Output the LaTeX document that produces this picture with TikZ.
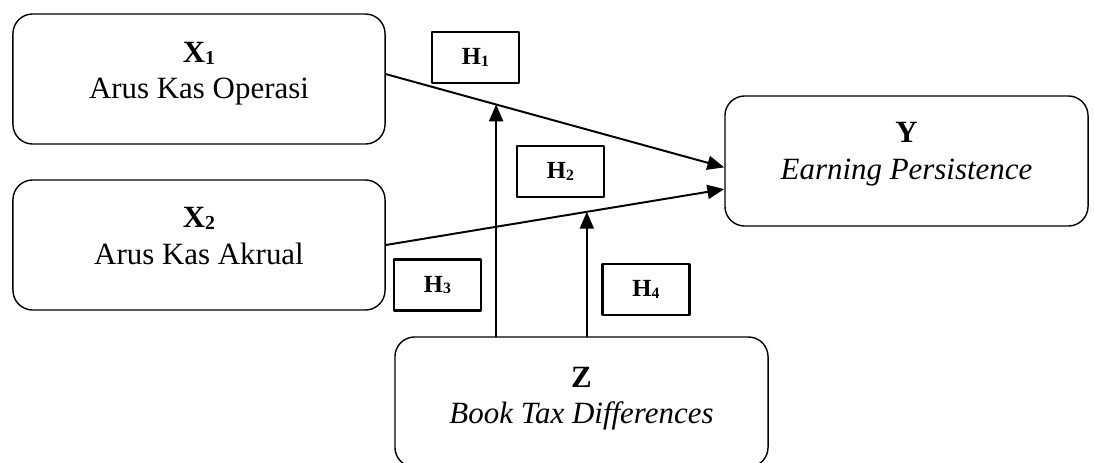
\documentclass[tikz,border=0pt]{standalone}
\usepackage{fontspec}
\setmainfont{Liberation Serif}
\usetikzlibrary{arrows.meta,calc,positioning}
\newcommand{\idx}[1]{\raisebox{-.15ex}{\scalebox{.64}{#1}}}

\begin{document}
\begin{tikzpicture}[x=0.025cm,y=-0.025cm,line cap=round,line join=round,
    var/.style={draw,line width=1pt,rounded corners=14pt,minimum width=9.3cm,minimum height=3.25cm},
    lbl/.style={align=center,font=\fontsize{22}{25.8}\selectfont},
    hyp/.style={draw,line width=1.6pt,minimum width=2.175cm,minimum height=1.275cm,font=\fontsize{17.5}{20}\selectfont\bfseries},
    arr/.style={line width=1.4pt,-{Triangle[length=12pt,width=10pt]}}]
    \useasboundingbox (0,0) rectangle (1094,462);
    \clip (0,0) rectangle (1094,462);
    % X1, X2
    \node[var] (x1) at (199,79) {};
    \node[lbl] (x1t) at (199,73.3) {\textbf{X\idx{1}}\\Arus Kas Operasi};
    \node[var] (x2) at (199,245) {};
    \node[lbl] (x2t) at (199,236) {\textbf{X\idx{2}}\\Arus Kas Akrual};
    % Y
    \node[var,minimum width=9.075cm] (y) at (906.5,161) {};
    \node[lbl] (yt) at (906.5,154.2) {\textbf{Y}\\\textit{Earning Persistence}};
    % Z
    \node[var,minimum width=9.325cm] (z) at (581.5,402) {};
    \node[lbl] (zt) at (581.5,398.3) {\textbf{Z}\\\textit{Book Tax Differences}};

    % hypotheses
    \node[hyp] (h1) at (475.5,57.5) {H\idx{1}};
    \node[hyp] (h2) at (560.5,171.5) {H\idx{2}};
    \node[hyp] (h3) at (437.5,285) {H\idx{3}};
    \node[hyp] (h4) at (646,289.5) {H\idx{4}};

    % paths
    \coordinate (a1) at ([yshift=3.5pt]x1.east);
    \coordinate (b1) at ([yshift=-4.5pt]y.west);
    \coordinate (a2) at (x2.east);
    \coordinate (b2) at ([yshift=-20pt]y.west);
    \draw[arr] (a1) -- (b1);
    \draw[arr] (a2) -- (b2);
    \coordinate (m1) at ($(a1)!0.326!(b1)$);
    \coordinate (m2) at ($(a2)!0.594!(b2)$);
    \draw[arr] (m1 |- z.north) -- (m1);
    \draw[arr] (m2 |- z.north) -- (m2);
\end{tikzpicture}
\end{document}
